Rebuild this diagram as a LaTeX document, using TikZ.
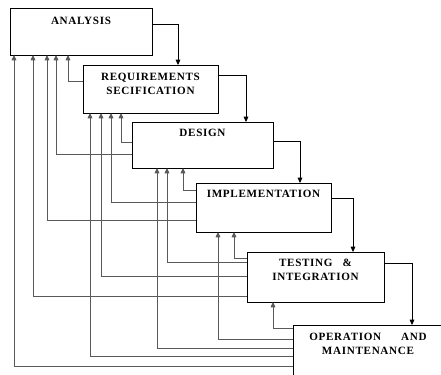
\documentclass[tikz,border=0pt]{standalone}
\usepackage{fontspec}
\newfontfamily\boxfont[LetterSpace=6]{Liberation Serif Bold}
\usetikzlibrary{positioning,arrows.meta}

\begin{document}
\begin{tikzpicture}[x=0.03cm, y=-0.03cm]

		\tikzstyle{phase} = [draw=black, rectangle, line width=0.7pt, inner sep=0pt, outer sep=0pt, anchor=north west]
		\tikzstyle{caption} = [inner sep=0pt, align=center, font=\boxfont\fontsize{9.5}{12}\selectfont]
		\tikzstyle{flow} = [-{Triangle[length=4.5pt,width=4pt]}, draw=black, line width=0.6pt]
		\tikzstyle{back} = [-{Triangle[length=4.5pt,width=4pt]}, draw=black!65, line width=0.85pt]

		\useasboundingbox (0,0) rectangle (441,375);
		\clip (0,0) rectangle (441,375);

		% the phases, top left corner at pixel position
		\node[phase, minimum width=4.26cm, minimum height=1.41cm] (ana) at (10,8) {};
		\node[phase, minimum width=4.05cm, minimum height=1.44cm] (req) at (83,65) {};
		\node[phase, minimum width=4.23cm, minimum height=1.38cm] (des) at (132,122) {};
		\node[phase, minimum width=4.05cm, minimum height=1.47cm] (imp) at (196,183) {};
		\node[phase, minimum width=4.11cm, minimum height=1.50cm] (tst) at (247,252) {};
		\node[phase, minimum width=4.80cm, minimum height=1.80cm] (ops) at (293,325) {};

		\node[caption, below=0.27cm of ana.north] (ana_txt) {ANALYSIS};
		\node[caption, below=0.23cm of req.north] (req_txt) {REQUIREMENTS\\SECIFICATION};
		\node[caption, below=0.22cm of des.north] (des_txt) {DESIGN};
		\node[caption, below=0.22cm of imp.north] (imp_txt) {IMPLEMENTATION};
		\node[caption, below=0.2cm of tst.north] (tst_txt) {TESTING\hspace{0.3cm}\&\\INTEGRATION};
		\node[caption, below=0.23cm of ops.north, xshift=-0.15cm] (ops_txt) {OPERATION\hspace{0.6cm}AND\\MAINTENANCE};

		% forward flow
		\draw[flow] (ana.east |- 0,24) -| (178,0 |- req.north);
		\draw[flow] (req.east |- 0,75) -| (246,0 |- des.north);
		\draw[flow] (des.east |- 0,141) -| (300,0 |- imp.north);
		\draw[flow] (imp.east |- 0,198) -| (353,0 |- tst.north);
		\draw[flow] (tst.east |- 0,263) -| (412,0 |- ops.north);

		% feedback into analysis
		\draw[back] (req.west |- 0,82) -| (68,0 |- ana.south);
		\draw[back] (des.west |- 0,155) -| (56,0 |- ana.south);
		\draw[back] (imp.west |- 0,221) -| (47,0 |- ana.south);
		\draw[back] (tst.west |- 0,297) -| (33,0 |- ana.south);
		\draw[back] (ops.west |- 0,367) -| (14,0 |- ana.south);

		% feedback into requirements
		\draw[back] (des.west |- 0,143) -| (121,0 |- req.south);
		\draw[back] (imp.west |- 0,203) -| (111,0 |- req.south);
		\draw[back] (tst.west |- 0,277) -| (101,0 |- req.south);
		\draw[back] (ops.west |- 0,357) -| (90,0 |- req.south);

		% feedback into design
		\draw[back] (imp.west |- 0,191) -| (183,0 |- des.south);
		\draw[back] (tst.west |- 0,263) -| (167,0 |- des.south);
		\draw[back] (ops.west |- 0,349) -| (157,0 |- des.south);

		% feedback into implementation and testing
		\draw[back] (tst.west |- 0,259) -| (234,0 |- imp.south);
		\draw[back] (ops.west |- 0,340) -| (218,0 |- imp.south);
		\draw[back] (ops.west |- 0,329) -| (273,0 |- tst.south);

	\end{tikzpicture}
\end{document}
